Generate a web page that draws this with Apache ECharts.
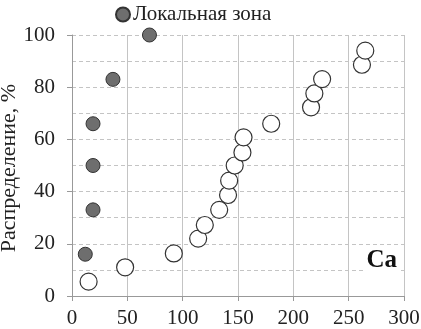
<!DOCTYPE html>
<html>
<head>
<meta charset="utf-8">
<script src="https://cdn.jsdelivr.net/npm/echarts@6/dist/echarts.min.js"></script>
<style>
  html, body { margin: 0; padding: 0; background: #fff; }
  #main { width: 421px; height: 329px; }
</style>
</head>
<body>
<div id="main"></div>
<script>
// локальная зона (filled markers)
const localX = [70, 37, 19, 19, 19, 12];
const localY = [100, 83, 66, 50, 33, 16];
// background samples (open markers)
const bgX = [15, 48, 92, 114, 120, 133, 141, 142, 147, 154, 155, 180, 216, 219, 226, 262, 265];
const bgY = [5.5, 11, 16.3, 22, 27.2, 33, 38.7, 44.2, 50, 55, 60.8, 66, 72.3, 77.6, 83.1, 88.6, 94];
const xTicks = [0, 50, 100, 150, 200, 250, 300];
const yTicks = [0, 20, 40, 60, 80, 100];

const font = '"Liberation Serif", "DejaVu Serif", serif';

let myChart = echarts.init(document.getElementById('main'));
myChart.setOption({
    animation: false,
    backgroundColor: '#fff',
    textStyle: { fontFamily: font },
    legend: {
        data: ['Локальная зона'],
        top: -1,
        left: 110,
        itemWidth: 14,
        itemHeight: 14,
        textStyle: { fontFamily: font, fontSize: 21, color: '#222', padding: [0, 0, 0, -2] }
    },
    grid: {
        left: 72,
        right: 17,
        top: 35,
        bottom: 33,
        outerBoundsMode: 'none'
    },
    xAxis: {
        type: 'value',
        min: xTicks[0],
        max: xTicks[xTicks.length - 1],
        interval: 50,
        axisLine: { show: true, lineStyle: { color: '#999', width: 1 } },
        axisTick: { show: true, length: 5, lineStyle: { color: '#999' } },
        axisLabel: { fontFamily: font, fontSize: 21, color: '#222', margin: 12 },
        splitLine: { show: true, lineStyle: { color: '#c4c4c4', type: 'solid', width: 1 } }
    },
    yAxis: {
        type: 'value',
        min: yTicks[0],
        max: yTicks[yTicks.length - 1],
        interval: 20,
        axisLine: { show: true, lineStyle: { color: '#999', width: 1 } },
        axisTick: { show: true, length: 5, lineStyle: { color: '#999' } },
        axisLabel: { fontFamily: font, fontSize: 21, color: '#222', margin: 17 },
        splitLine: { show: true, lineStyle: { color: '#c4c4c4', type: [4, 3], width: 1 } },
        minorTick: { show: false, splitNumber: 2 },
        minorSplitLine: { show: true, lineStyle: { color: '#c4c4c4', type: [4, 3], width: 1 } }
    },
    graphic: [{
        // y-axis title, placed by hand so it sits at the very left edge
        type: 'text',
        x: 9,
        y: 168,
        rotation: Math.PI / 2,
        style: {
            text: 'Распределение, %',
            font: '22px ' + font,
            fill: '#222',
            align: 'center',
            verticalAlign: 'middle'
        }
    }, {
        type: 'text',
        right: 21,
        top: 248,
        z: 100,
        style: {
            text: 'Ca',
            font: 'bold 25px ' + font,
            fill: '#111',
            backgroundColor: '#fff',
            padding: [0, 3]
        }
    }],
    series: [{
        name: 'Фон',
        type: 'scatter',
        symbol: 'circle',
        symbolSize: 17,
        data: bgX.map((x, i) => [x, bgY[i]]),
        itemStyle: { color: '#fff', borderColor: '#333', borderWidth: 1.2, opacity: 1 }
    }, {
        name: 'Локальная зона',
        type: 'scatter',
        symbol: 'circle',
        symbolSize: 14,
        data: localX.map((x, i) => [x, localY[i]]),
        itemStyle: { color: '#6e6e6e', borderColor: '#333', borderWidth: 1, opacity: 1 }
    }]
});
</script>
</body>
</html>
